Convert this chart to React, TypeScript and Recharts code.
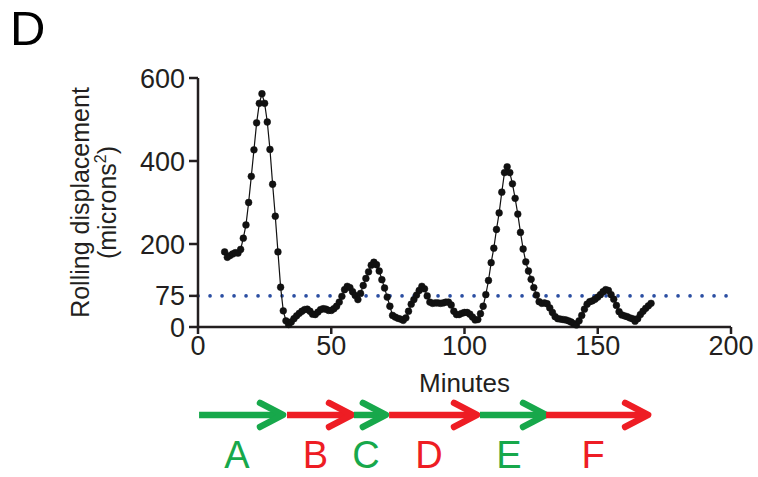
import React from 'react'
import { LineChart, Line, XAxis, YAxis, ReferenceLine } from 'recharts'

// minutes sampled (one point per minute)
const minutes = [
  10, 11, 12, 13, 14, 15, 16, 17, 18, 19,
  20, 21, 22, 23, 24, 25, 26, 27, 28, 29,
  30, 31, 32, 33, 34, 35, 36, 37, 38, 39,
  40, 41, 42, 43, 44, 45, 46, 47, 48, 49,
  50, 51, 52, 53, 54, 55, 56, 57, 58, 59,
  60, 61, 62, 63, 64, 65, 66, 67, 68, 69,
  70, 71, 72, 73, 74, 75, 76, 77, 78, 79,
  80, 81, 82, 83, 84, 85, 86, 87, 88, 89,
  90, 91, 92, 93, 94, 95, 96, 97, 98, 99,
  100, 101, 102, 103, 104, 105, 106, 107, 108, 109,
  110, 111, 112, 113, 114, 115, 116, 117, 118, 119,
  120, 121, 122, 123, 124, 125, 126, 127, 128, 129,
  130, 131, 132, 133, 134, 135, 136, 137, 138, 139,
  140, 141, 142, 143, 144, 145, 146, 147, 148, 149,
  150, 151, 152, 153, 154, 155, 156, 157, 158, 159,
  160, 161, 162, 163, 164, 165, 166, 167, 168, 169,
  170,
]

// rolling displacement (microns^2)
const displacement = [
  181, 168, 172, 176, 179, 178, 187, 214, 246, 300,
  363, 427, 492, 539, 562, 539, 494, 428, 344, 267,
  181, 96, 39, 15, 6, 12, 20, 27, 33, 38,
  42, 43, 38, 31, 30, 36, 42, 44, 43, 40,
  40, 44, 50, 60, 74, 90, 98, 95, 85, 76,
  66, 81, 100, 117, 133, 149, 156, 150, 135, 114,
  94, 72, 50, 28, 24, 21, 19, 16, 22, 38,
  55, 66, 77, 88, 98, 92, 75, 60, 57, 58,
  58, 57, 58, 60, 60, 53, 38, 30, 30, 33,
  35, 35, 31, 24, 17, 18, 32, 50, 78, 112,
  155, 190, 235, 275, 325, 372, 386, 372, 345, 310,
  272, 228, 188, 157, 135, 115, 95, 77, 61, 57,
  58, 56, 46, 35, 25, 20, 19, 18, 17, 15,
  12, 8, 5, 15, 28, 43, 55, 61, 63, 67,
  72, 78, 85, 90, 88, 78, 67, 52, 37, 29,
  27, 25, 22, 20, 14, 20, 30, 38, 45, 51,
  57,
]

const xTicks = [0, 50, 100, 150, 200]
const yTicks = [0, 75, 200, 400, 600]
const threshold = 75

// phases shown as arrows under the axis
const phaseLabels = ['A', 'B', 'C', 'D', 'E', 'F']
const phaseStart = [0.4, 33.4, 58.5, 71.7, 105.8, 130.6]
const phaseEnd = [31.9, 57.8, 70.5, 104.7, 130.6, 168.9]
const phaseKind = ['go', 'stop', 'go', 'stop', 'go', 'stop']
const phaseRow = -212 // y value (below the axis) where arrows sit

const GREEN = '#17a84b'
const RED = '#ee1d24'
const INK = '#231f20'
const FONT = '"Liberation Sans", Arial, Helvetica, sans-serif'

const data = minutes.map((m, i) => ({ minute: m, value: displacement[i] }))

function makeArrow(letter: string, color: string) {
  return (props: any) => {
    const { x1, y1, x2, y2 } = props
    const mid = (x1 + x2) / 2 - 4
    return (
      <g>
        <line x1={x1} y1={y1} x2={x2 - 3} y2={y2} stroke={color} strokeWidth={6.5} />
        <polyline
          points={`${x2 - 23},${y2 - 12} ${x2},${y2} ${x2 - 23},${y2 + 12}`}
          fill="none"
          stroke={color}
          strokeWidth={6.5}
          strokeLinecap="round"
          strokeLinejoin="round"
        />
        <text x={mid} y={y1 + 53} textAnchor="middle" fill={color} fontSize={38} fontFamily={FONT}>
          {letter}
        </text>
      </g>
    )
  }
}

function YLabel(props: any) {
  const vb = props.viewBox || { x: 0, y: 78, width: 198, height: 249 }
  const cy = vb.y + vb.height / 2
  return (
    <g fontFamily={FONT} fontSize={25} fill={INK}>
      <text x={vb.x + 89} y={cy} textAnchor="middle" transform={`rotate(-90 ${vb.x + 89} ${cy})`} fill={INK}>
        Rolling displacement
      </text>
      <text x={vb.x + 116} y={cy} textAnchor="middle" transform={`rotate(-90 ${vb.x + 116} ${cy})`} fill={INK}>
        (microns<tspan fontSize={16} dy={-10}>2</tspan><tspan dy={10}>)</tspan>
      </text>
    </g>
  )
}

function XLabel(props: any) {
  const vb = props.viewBox || { x: 198, y: 327, width: 533, height: 60 }
  return (
    <text x={vb.x + vb.width / 2} y={vb.y + 65} textAnchor="middle" fontFamily={FONT} fontSize={26} fill={INK}>
      Minutes
    </text>
  )
}

export default function App() {
  return (
    <div style={{ position: 'absolute', left: 0, top: 0, width: 758, height: 477, background: '#fff' }}>
      <div style={{ position: 'absolute', left: 10, top: 6, fontFamily: FONT, fontSize: 49, lineHeight: '44px', color: '#000' }}>D</div>
      <LineChart width={758} height={477} data={data} margin={{ top: 78, right: 27, bottom: 90, left: 0 }}>
        <XAxis
          dataKey="minute"
          type="number"
          domain={[0, 200]}
          ticks={xTicks}
          interval={0}
          height={60}
          stroke={INK}
          strokeWidth={2.5}
          tickSize={7}
          tickMargin={2}
          tick={{ fill: INK, fontSize: 27, fontFamily: FONT }}
          label={<XLabel />}
        />
        <YAxis
          type="number"
          domain={[0, 600]}
          ticks={yTicks}
          interval={0}
          width={198}
          stroke={INK}
          strokeWidth={2.5}
          tickSize={9}
          tickMargin={4}
          tick={{ fill: INK, fontSize: 27, fontFamily: FONT }}
          label={<YLabel />}
        />
        <ReferenceLine
          y={threshold}
          stroke="#2b4ea2"
          strokeWidth={3.6}
          strokeDasharray="0.1 11.9"
          strokeLinecap="round"
        />
        {phaseLabels.map((p, i) => (
          <ReferenceLine
            key={p}
            ifOverflow="visible"
            segment={[
              { x: phaseStart[i], y: phaseRow },
              { x: phaseEnd[i], y: phaseRow },
            ]}
            shape={makeArrow(p, phaseKind[i] === 'go' ? GREEN : RED)}
          />
        ))}
        <Line
          dataKey="value"
          stroke="#111"
          strokeWidth={1.2}
          dot={{ r: 3.4, fill: '#111', stroke: '#111', strokeWidth: 0.5 }}
          isAnimationActive={false}
        />
      </LineChart>
    </div>
  )
}
